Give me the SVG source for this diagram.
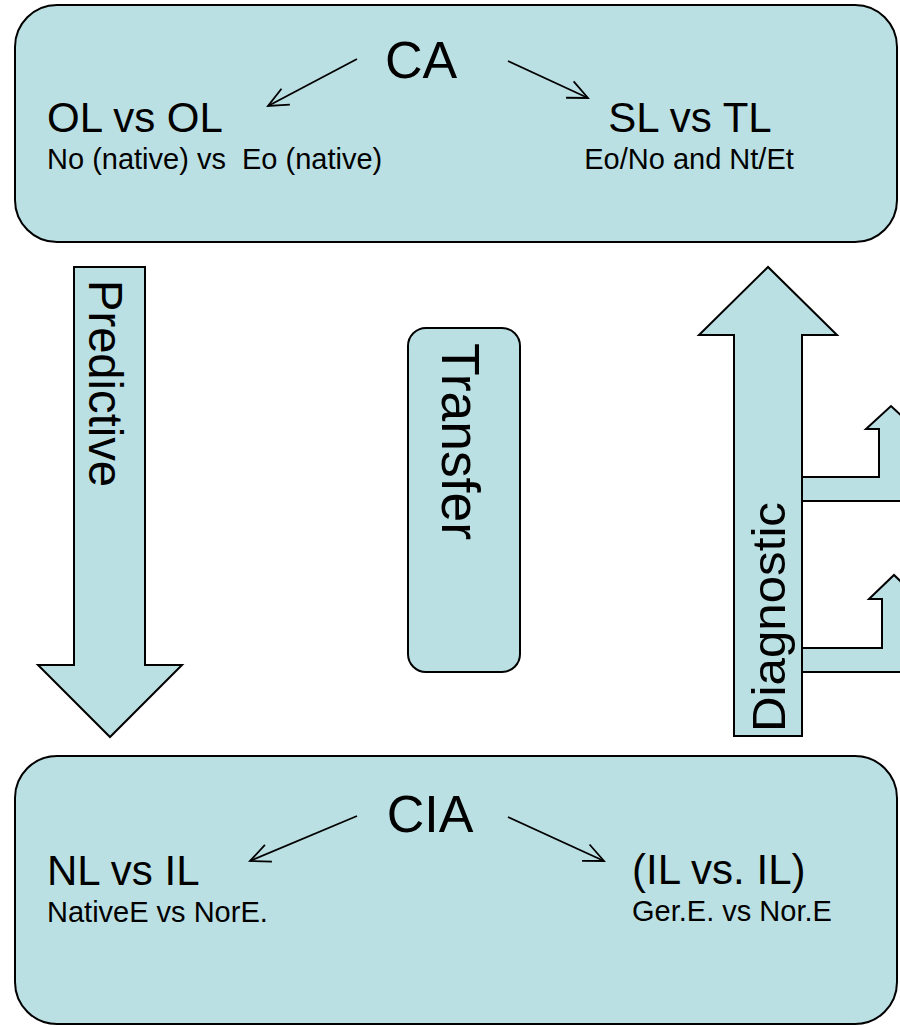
<svg xmlns="http://www.w3.org/2000/svg" width="900" height="1026" viewBox="0 0 900 1026">
<style>
.shape{fill:#bbe0e3;stroke:#000;stroke-width:2;stroke-linejoin:miter}
.t{font-family:"Liberation Sans",Arial,sans-serif;fill:#000}
.big{font-size:52px}
.mid{font-size:42px}
.sm{font-size:29px}
.conn{stroke:#000;stroke-width:1.8;fill:none}
</style>
<defs>
<marker id="open" viewBox="-22 -11 24 22" refX="0" refY="0" markerWidth="24" markerHeight="22" markerUnits="userSpaceOnUse" orient="auto" overflow="visible">
<path d="M-20,-9 L0,0 L-20,9" fill="none" stroke="#000" stroke-width="1.8"/>
</marker>
</defs>
<rect width="900" height="1026" fill="#fff"/>
<g id="ca">
<rect class="shape" x="15" y="5" width="882" height="237" rx="42" ry="42"/>
<text class="t big" x="421" y="78" text-anchor="middle">CA</text>
<text class="t mid" x="47" y="132">OL vs OL</text>
<text class="t sm" x="47" y="169" xml:space="preserve">No (native) vs  Eo (native)</text>
<text class="t mid" x="690" y="132" text-anchor="middle">SL vs TL</text>
<text class="t sm" x="689" y="169" text-anchor="middle">Eo/No and Nt/Et</text>
</g>
<g id="cia">
<rect class="shape" x="15" y="756" width="882" height="268" rx="42" ry="42"/>
<text class="t big" x="430" y="832" text-anchor="middle">CIA</text>
<text class="t mid" x="47" y="885">NL vs IL</text>
<text class="t sm" x="47" y="922">NativeE vs NorE.</text>
<text class="t mid" x="632" y="884">(IL vs. IL)</text>
<text class="t sm" x="632" y="921">Ger.E. vs Nor.E</text>
</g>
<g id="predictive">
<polygon class="shape" points="74,267 145,267 145,665 182,665 110,737 38,665 74,665"/>
<text class="t" font-size="48" transform="translate(89,280) rotate(90)" textLength="207" lengthAdjust="spacingAndGlyphs">Predictive</text>
</g>
<g id="transfer">
<rect class="shape" x="408" y="328" width="112" height="344" rx="18" ry="18"/>
<text class="t" font-size="53" transform="translate(442,343) rotate(90)" textLength="197" lengthAdjust="spacingAndGlyphs">Transfer</text>
</g>
<g id="diagnostic">
<polygon class="shape" points="802,477 879,477 879,429 866,429 891,406 916,429 903,429 903,501 802,501"/>
<polygon class="shape" points="802,648 882,648 882,599 869,599 894,575 919,599 906,599 906,672 802,672"/>
<polygon class="shape" points="734,736 734,335 699,335 768,267 837,335 802,335 802,736"/>
<text class="t" font-size="47" transform="translate(785,732) rotate(-90)" textLength="230" lengthAdjust="spacingAndGlyphs">Diagnostic</text>
</g>
<g id="connectors">
<line class="conn" x1="357" y1="59" x2="268" y2="106" marker-end="url(#open)"/>
<line class="conn" x1="508" y1="61" x2="588" y2="98" marker-end="url(#open)"/>
<line class="conn" x1="357" y1="816" x2="250" y2="861" marker-end="url(#open)"/>
<line class="conn" x1="508" y1="817" x2="604" y2="861" marker-end="url(#open)"/>
</g>
</svg>
